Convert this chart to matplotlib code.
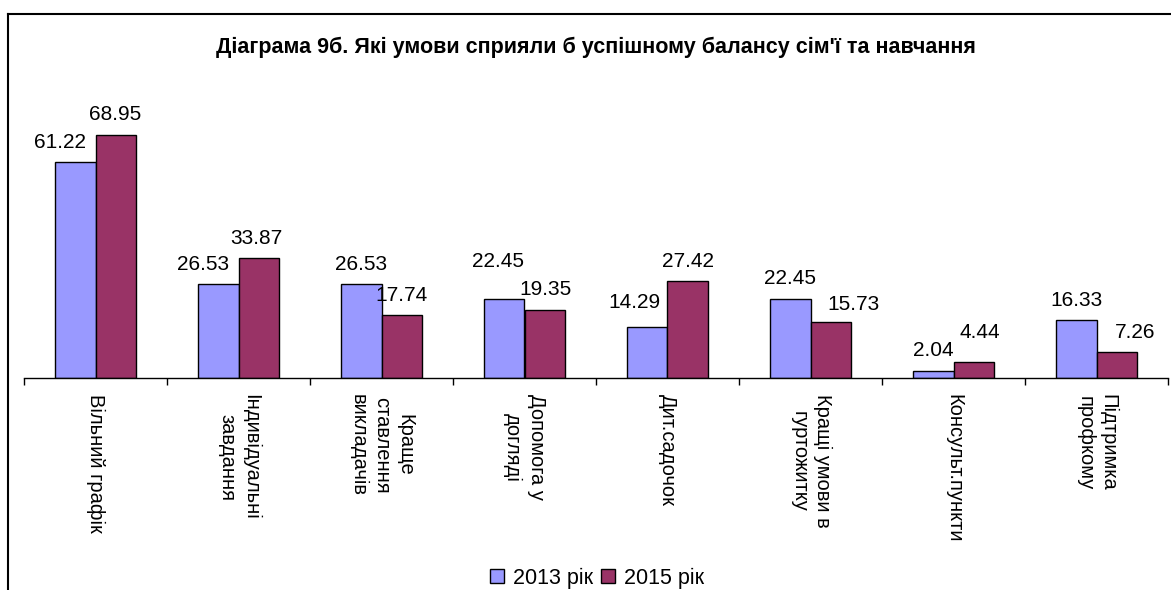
import matplotlib
matplotlib.use('Agg')
import matplotlib.pyplot as plt
import numpy as np
from matplotlib.lines import Line2D

plt.rcParams['font.family'] = ['Liberation Sans', 'DejaVu Sans']

categories = ['Вільний графік', 'Індивідуальні\nзавдання', 'Краще\nставлення\nвикладачів',
              'Допомога у\nдогляді', 'Дит.садочок', 'Кращі умови в\nгуртожитку',
              'Консульт.пункти', 'Підтримка\nпрофкому']
y2013 = [61.22, 26.53, 26.53, 22.45, 14.29, 22.45, 2.04, 16.33]
y2015 = [68.95, 33.87, 17.74, 19.35, 27.42, 15.73, 4.44, 7.26]
series = ['2013 рік', '2015 рік']
title = "Діаграма 9б. Які умови сприяли б успішному балансу сім'ї та навчання"

# label nudges (pixels) so labels sit like in the original
dx13 = [-15, -15, 0, -6, -13, 0, 0, 0]
dy13 = [0, 0, 0, 17, 5, 0, 0, 0]
dx15 = [-1, -2, 0, 1, 0, 23, 6, 18]
dy15 = [0, 0, 0, 0, 0, -2, 10, 0]

W, H = 1171, 590
fig = plt.figure(figsize=(W / 100, H / 100), dpi=100)
ax = fig.add_axes([24 / W, (H - 377.7) / H, (1168 - 24) / W, 264 / H])

x = np.arange(len(categories))
bw = 0.283
b1 = ax.bar(x - bw / 2, y2013, bw, color='#9999FF', edgecolor='black', linewidth=1.0, label=series[0])
b2 = ax.bar(x + bw / 2, y2015, bw, color='#993366', edgecolor='black', linewidth=1.0, label=series[1])

for bars, vals, dxs, dys in [(b1, y2013, dx13, dy13), (b2, y2015, dx15, dy15)]:
    for b, v, ddx, ddy in zip(bars, vals, dxs, dys):
        ax.annotate(f'{v:.2f}', (b.get_x() + b.get_width() / 2, v),
                    xytext=(ddx, 20 + ddy), textcoords='offset pixels',
                    ha='center', va='center', fontsize=15)

ax.set_xlim(-0.5, len(categories) - 0.5)
ax.set_ylim(0, 75)
ax.set_yticks([])
for s in ['top', 'right', 'left']:
    ax.spines[s].set_visible(False)
ax.spines['bottom'].set_linewidth(1.0)
ax.set_xticks(x)
ax.set_xticklabels(categories, rotation=270, fontsize=14.5, va='top', ha='center', linespacing=1.3)
ax.tick_params(axis='x', which='major', length=0, pad=12)
ax.set_xticks(np.arange(len(categories) + 1) - 0.5, minor=True)
ax.tick_params(axis='x', which='minor', length=5, width=1.0, direction='out')

fig.text(596 / W, 1 - 47 / H, title, ha='center', va='center', fontsize=15.5, fontweight='bold')

leg = fig.legend(loc='center', bbox_to_anchor=(597 / W, 1 - 578 / H), ncol=2, frameon=False,
                 fontsize=15.5, handlelength=0.65, handleheight=0.65, handletextpad=0.4,
                 columnspacing=0.4)

# outer border (only top and left visible in the crop)
fig.add_artist(Line2D([8 / W, 1.01], [1 - 14 / H, 1 - 14 / H], color='black', linewidth=1.5,
                      transform=fig.transFigure))
fig.add_artist(Line2D([8 / W, 8 / W], [1 - 14 / H, -0.01], color='black', linewidth=1.5,
                      transform=fig.transFigure))

fig.savefig('out.png', dpi=100)
